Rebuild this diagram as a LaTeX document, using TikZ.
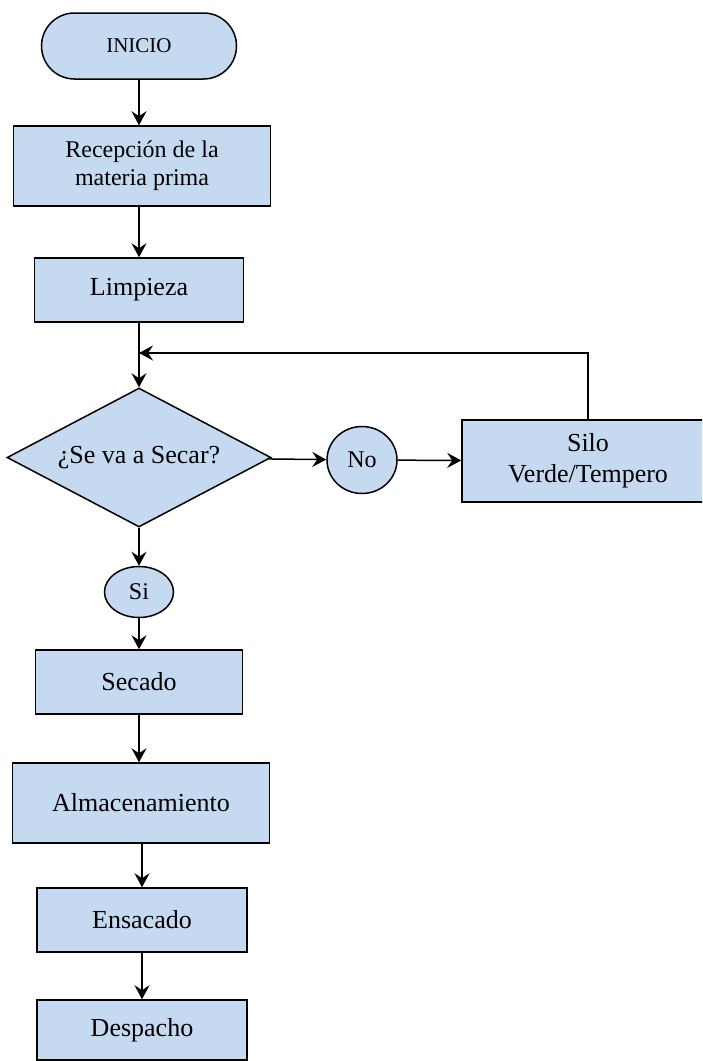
\documentclass[tikz,border=0pt]{standalone}
\usepackage{fontspec}
\setmainfont{Liberation Serif}
\usetikzlibrary{shapes.geometric,arrows.meta}
\definecolor{boxfill}{HTML}{C5D9F1}
\begin{document}
\begin{tikzpicture}[x=1pt,y=-1pt,
  base/.style={draw=black,line width=1.5pt,fill=boxfill,inner sep=0pt,align=center,
    font=\fontsize{26}{30}\selectfont},
  procbox/.style={base,rectangle},
  termbox/.style={base,rectangle,rounded corners=33pt,font=\fontsize{21}{25}\selectfont},
  decbox/.style={base,diamond,aspect=1.9},
  connbox/.style={base,ellipse,font=\fontsize{24}{28}\selectfont},
  flow/.style={line width=1.5pt,-{Stealth[length=14pt,width=15pt,inset=5pt]}}]
\useasboundingbox (0,0) rectangle (702,1061);
\clip (0,0) rectangle (702,1061);

% main column
\node[termbox,minimum width=195pt,minimum height=66pt] (inicio) at (139,46) {INICIO};
\node[procbox,minimum width=257pt,minimum height=80pt,font=\fontsize{24}{28}\selectfont] (recep) at (142,166) {Recepción de la\\materia prima};
\node[procbox,minimum width=209pt,minimum height=64pt] (limp) at (139,290) {Limpieza};
\node[decbox,minimum width=264pt,minimum height=139pt] (dec) at (139,457.5) {¿Se va a Secar?};
\node[connbox,minimum width=70pt,minimum height=67pt] (no) at (362,460) {No};
\node[procbox,minimum width=252pt,minimum height=82pt,font=\fontsize{26}{31}\selectfont] (silo) at (588,461) {Silo\\Verde/Tempero};
\node[connbox,minimum width=69pt,minimum height=51pt] (si) at (139,592) {Si};
\node[procbox,minimum width=207pt,minimum height=64pt] (sec) at (139,682) {Secado};
\node[procbox,minimum width=257pt,minimum height=80pt] (alm) at (141,803) {Almacenamiento};
\node[procbox,minimum width=210pt,minimum height=64pt] (ens) at (142,920) {Ensacado};
\node[procbox,minimum width=210pt,minimum height=60pt] (desp) at (142,1030) {Despacho};

% return point of the loop from the silo
\coordinate (merge) at (139,353);

% connectors
\draw[flow] (inicio) -- (inicio |- recep.north);
\draw[flow] (recep.south -| limp) -- (limp);
\draw[flow] (limp) -- (dec);
\draw[flow] (dec) -- (no);
\draw[flow] (no) -- (silo);
\draw[flow] (silo.north) |- (merge);
\draw[flow] (dec) -- (si);
\draw[flow] (si) -- (sec);
\draw[flow] (sec) -- (sec |- alm.north);
\draw[flow] (alm.south -| ens) -- (ens);
\draw[flow] (ens) -- (desp);
\end{tikzpicture}
\end{document}
